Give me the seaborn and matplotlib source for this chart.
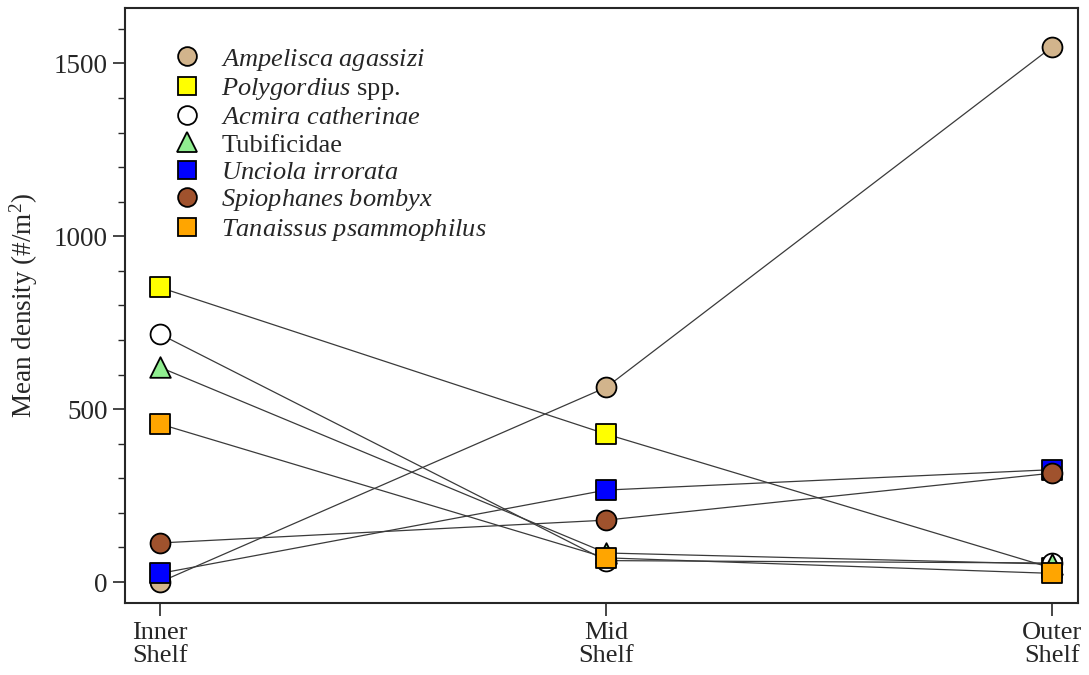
import matplotlib
matplotlib.use("Agg")
import matplotlib.pyplot as plt
from matplotlib.lines import Line2D
import seaborn as sns
import pandas as pd

zones = ["Inner\nShelf", "Mid\nShelf", "Outer\nShelf"]
species = ["Ampelisca agassizi", "Polygordius spp.", "Acmira catherinae", "Tubificidae",
           "Unciola irrorata", "Spiophanes bombyx", "Tanaissus psammophilus"]
legend_labels = [r"$\it{Ampelisca\ agassizi}$", r"$\it{Polygordius}$ spp.",
                 r"$\it{Acmira\ catherinae}$", "Tubificidae", r"$\it{Unciola\ irrorata}$",
                 r"$\it{Spiophanes\ bombyx}$", r"$\it{Tanaissus\ psammophilus}$"]
ampelisca = [0, 563, 1548]
polygordius = [852, 428, 40]
acmira = [717, 62, 55]
tubificidae = [621, 84, 52]
unciola = [25, 266, 325]
spiophanes = [113, 179, 315]
tanaissus = [457, 70, 25]
values = [ampelisca, polygordius, acmira, tubificidae, unciola, spiophanes, tanaissus]
colors = ["#D2B48C", "#FFFF00", "#FFFFFF", "#90EE90", "#0000FF", "#A0522D", "#FFA500"]
markers = ["o", "s", "o", "^", "s", "o", "s"]

rows = []
for sp, vals in zip(species, values):
    for i, v in enumerate(vals):
        rows.append({"species": sp, "pos": i, "density": v})
df = pd.DataFrame(rows)

sns.set_style("ticks")
plt.rcParams["font.family"] = ["Liberation Serif", "DejaVu Serif"]
plt.rcParams["mathtext.fontset"] = "custom"
plt.rcParams["mathtext.rm"] = "Liberation Serif"
plt.rcParams["mathtext.it"] = "Liberation Serif:italic"

fig = plt.figure(figsize=(10.89, 6.75), dpi=100)
ax = fig.add_axes([0.115, 0.107, 0.875, 0.881])

sns.lineplot(data=df, x="pos", y="density", units="species", estimator=None,
             color="#3a3a3a", linewidth=0.9, ax=ax, zorder=1, legend=False)

size_map = {"o": 205, "s": 200, "^": 220}
for sp, col, mk in zip(species, colors, markers):
    sub = df[df["species"] == sp]
    sns.scatterplot(data=sub, x="pos", y="density", marker=mk, color=col,
                    edgecolor="black", linewidth=1.3, s=size_map[mk], ax=ax,
                    zorder=3, legend=False)

ax.set_xlim(-0.078, 2.058)
ax.set_ylim(-60, 1660)
ax.set_xticks([0, 1, 2])
ax.set_xticklabels(zones, fontsize=19, linespacing=1.05)
ax.set_yticks([0, 500, 1000, 1500])
ax.set_yticks(range(0, 1700, 100), minor=True)
ax.tick_params(axis="y", which="major", labelsize=19.5, length=9, width=1.2, direction="out")
ax.tick_params(axis="y", which="minor", length=5, width=1.0, direction="out")
ax.tick_params(axis="x", which="major", length=9, width=1.2, direction="out", pad=5)
ax.set_xlabel("")
ax.set_ylabel("Mean density (#/m$^2$)", fontsize=19.5, labelpad=10)
for s in ax.spines.values():
    s.set_linewidth(1.5)
    s.set_visible(True)

handles = [Line2D([0], [0], marker=mk, linestyle="none", markerfacecolor=col,
                  markeredgecolor="black", markeredgewidth=1.3,
                  markersize=13.5 if mk != "^" else 14.5)
           for col, mk in zip(colors, markers)]
ax.legend(handles, legend_labels, loc="upper left", bbox_to_anchor=(0.037, 0.953),
          frameon=False, fontsize=19, labelspacing=0.14, handletextpad=0.7,
          handlelength=1.2, borderaxespad=0.0)

fig.savefig("out.png", dpi=100)
